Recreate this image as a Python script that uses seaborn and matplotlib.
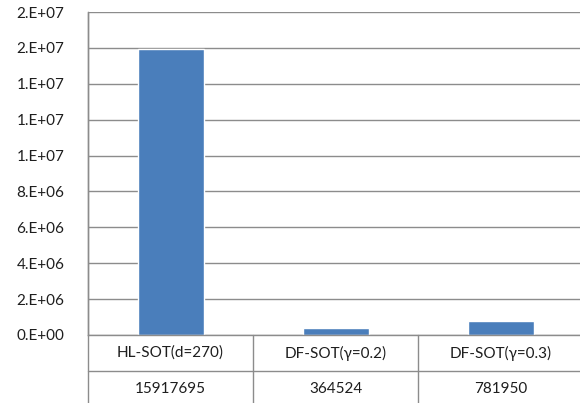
import matplotlib
matplotlib.use("Agg")
import matplotlib.pyplot as plt
import matplotlib.transforms as mtransforms
from matplotlib.ticker import FuncFormatter, MultipleLocator
import seaborn as sns
import pandas as pd

categories = ["HL-SOT(d=270)", "DF-SOT(γ=0.2)", "DF-SOT(γ=0.3)"]
values = [15917695, 364524, 781950]

sns.set_style("white")
plt.rcParams["font.family"] = ["Lato", "DejaVu Sans"]

bar_color = "#4a7ebb"
line_color = "#8c8c8c"
text_color = "#1e1e1e"

df = pd.DataFrame({"method": categories, "count": values})

fig = plt.figure(figsize=(5.80, 4.03), dpi=100)
ax = fig.add_axes([88 / 580, 68 / 403, 495 / 580, 323 / 403])

sns.barplot(data=df, x="method", y="count", color=bar_color, width=0.4,
            saturation=1, ax=ax)

ax.set_xlim(-0.5, len(categories) - 0.5)
ax.set_ylim(0, 18e6)
ax.yaxis.set_major_locator(MultipleLocator(2e6))


def excel_sci(v, pos):
    s = f"{v:.0e}"
    mant, exp = s.split("e")
    return f"{mant}.E{exp[0]}{exp[1:].zfill(2)}"


ax.yaxis.set_major_formatter(FuncFormatter(excel_sci))
ax.grid(axis="y", color=line_color, linewidth=1.0)
ax.set_axisbelow(True)
ax.tick_params(axis="y", length=0, pad=17, labelsize=11, labelcolor=text_color)
ax.set_xticks([])
ax.set_xlabel("")
ax.set_ylabel("")

for side in ["top", "right"]:
    ax.spines[side].set_visible(False)
for side in ["left", "bottom"]:
    ax.spines[side].set_color(line_color)
    ax.spines[side].set_linewidth(1.0)

# data table under the plot
trans = mtransforms.blended_transform_factory(ax.transData, ax.transAxes)
row_h = 36 / 323
n = len(categories)
for k in (1, 2):
    ax.plot([-0.5, n - 0.5], [-row_h * k, -row_h * k], color=line_color,
            lw=1.0, transform=trans, clip_on=False)
for xb in [i - 0.5 for i in range(n + 1)]:
    ax.plot([xb, xb], [0, -row_h * 2.2], color=line_color, lw=1.0,
            transform=trans, clip_on=False)
ax.plot([-0.5, -0.5], [0, 1], color=line_color, lw=1.0,
        transform=trans, clip_on=False)

for i, (cat, val) in enumerate(zip(categories, values)):
    ax.text(i, -row_h * 0.5, cat, ha="center", va="center", fontsize=11,
            color=text_color, transform=trans, clip_on=False)
    ax.text(i, -row_h * 1.5, f"{val}", ha="center", va="center", fontsize=11,
            color=text_color, transform=trans, clip_on=False)

fig.savefig("out.png", dpi=100)
